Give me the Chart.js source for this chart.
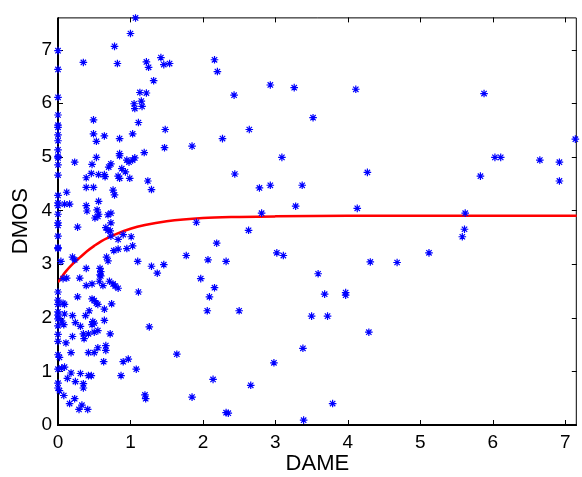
<!DOCTYPE html>
<html>
<head>
<meta charset="utf-8">
<script src="https://cdn.jsdelivr.net/npm/chart.js@4/dist/chart.umd.min.js"></script>
<style>
  html, body { margin: 0; padding: 0; background: #fff; }
</style>
</head>
<body>
<canvas id="mycanvas" width="582" height="477"></canvas>
<script>
// scatter data (DAME, DMOS)
var dame = [
  1.07,1.00,0.78,0,0.35,0.82,1.22,1.25,1.42,1.46,1.54,2.16,2.20,0,1.32,1.13,1.22,1.15,1.05,1.16,
  1.06,0,0,0,0,0.49,1.11,0.49,0.64,0.53,0.85,1.03,1.48,1.47,1.85,2.27,0,0,0,1.19,
  0.85,0,0,0,0,0.23,0.53,0.47,0.73,0.70,0.85,0.95,0.98,1.06,1.03,0.88,0.93,0.46,0.39,0.56,
  0.64,0.65,0.83,0.85,0.99,1.24,1.29,0.39,0.49,0.12,0.76,0.78,0,0,0,0,0.09,0.16,0.56,0.39,
  0.40,0.54,0.56,0.51,0.55,0.69,0.73,0.73,0,0,0.27,0.66,0.69,0.72,1.91,1.01,0.83,0.90,0.73,0,
  0,0,2.19,0.77,0.83,0.95,1.03,0.20,0.23,0.04,0.67,0.69,1.10,1.77,2.07,2.32,1.29,1.46,1.37,0.39,
  0.58,0.59,0.58,0.59,0.07,0.12,0.30,1.97,0.39,0.47,0.57,0.62,0.71,0.76,0.79,0.83,2.16,1.11,
  2.09,2.06,0,0,0,0,0,0,0,0,0,0.07,0.09,0.27,0.47,0.50,0.53,0.55,0.74,0.43,0.38,0.64,
  0.09,0.20,0.05,0.08,0.24,0.31,0.48,0.50,0.47,0.64,0.55,0.50,0.42,0.35,0.36,0.72,0.20,0.11,1.26,0.66,
  0.66,0.55,0.42,0.50,0.18,0,0.02,0.63,0.90,0.97,1.64,0,0.05,0.09,0.13,0.18,0.31,0.42,0.46,0.24,
  0.35,0.35,1.08,0.87,0,0,0.02,0.08,2.14,1.20,1.21,1.85,0.23,0.16,0.33,0.29,0.41,2.32,
  2.43,2.93,3.26,4.11,3.52,2.64,3.09,2.44,4.27,2.78,2.93,3.37,3.28,4.13,2.81,
  2.63,3.02,3.11,4.31,4.68,3.59,3.68,3.97,3.97,2.50,3.50,3.72,4.29,3.38,2.98,2.66,3.79,2.35,3.39,
  5.88,7.14,6.03,6.11,6.65,6.92,5.83,6.92,5.62,5.61,5.58,5.12
];
var dmos = [
  7.59,7.30,7.06,6.98,6.76,6.74,6.77,6.67,6.85,6.72,6.74,6.81,6.59,6.63,6.42,6.20,6.19,6.04,5.99,5.94,
  5.90,6.11,5.78,5.59,5.55,5.69,5.64,5.43,5.39,5.29,5.34,5.43,5.51,5.17,5.20,5.34,5.41,5.30,5.13,5.08,
  5.06,5.01,4.98,4.85,4.66,4.90,4.99,4.86,4.87,4.81,5.02,4.94,4.90,4.98,4.94,4.78,4.72,4.69,4.61,4.67,
  4.67,4.63,4.64,4.60,4.60,4.55,4.39,4.43,4.43,4.34,4.38,4.29,4.28,4.14,4.09,3.93,4.12,4.12,4.17,4.09,
  3.99,4.01,3.93,3.86,3.89,3.92,3.95,3.77,3.77,3.72,3.69,3.68,3.63,3.62,3.78,3.51,3.46,3.55,3.52,3.52,
  3.31,3.29,3.39,3.25,3.28,3.29,3.34,3.13,3.08,3.05,3.13,3.06,3.05,3.16,3.08,3.05,2.96,2.99,2.83,2.92,
  2.92,2.86,2.80,2.78,2.73,2.74,2.74,2.73,2.60,2.63,2.68,2.60,2.68,2.63,2.59,2.55,2.56,2.48,
  2.39,2.13,2.48,2.33,2.25,2.11,2.05,1.98,1.85,1.69,1.56,2.27,2.25,2.39,2.35,2.32,2.27,2.25,2.26,2.13,2.04,2.16,
  2.07,2.04,1.94,1.87,1.91,1.84,1.93,1.90,1.87,1.95,1.76,1.73,1.70,1.70,1.61,1.70,1.65,1.53,1.83,1.48,
  1.39,1.44,1.35,1.35,1.35,1.31,1.26,1.18,1.18,1.23,1.32,1.04,1.06,1.08,0.87,0.97,0.96,0.92,0.92,0.81,
  0.77,0.69,1.04,0.92,0.78,0.69,0.64,0.55,0.85,0.56,0.49,0.52,0.49,0.40,0.37,0.29,0.29,0.23,
  6.15,6.34,6.29,6.26,5.73,5.51,4.99,4.68,4.71,4.42,4.47,4.47,4.08,4.04,3.95,
  3.63,3.21,3.16,3.04,3.03,2.82,2.44,2.47,2.42,2.13,2.03,2.03,1.73,1.43,1.16,0.74,0.40,0.22,0.09,
  6.18,5.33,4.99,4.99,4.94,4.90,4.64,4.55,3.95,3.65,3.51,3.21
];

// fitted curve
var fitX = [0, 0.1, 0.2, 0.3, 0.4, 0.5, 0.6, 0.8, 1.0, 1.2, 1.5, 2.0, 2.5, 3.0, 4.0, 5.0, 6.0, 7.16];
var fitY = [2.66, 2.85, 3.00, 3.12, 3.24, 3.34, 3.43, 3.56, 3.66, 3.73, 3.80, 3.86, 3.88, 3.89, 3.90, 3.90, 3.90, 3.90];

var xTicks = [0, 1, 2, 3, 4, 5, 6, 7];
var yTicks = [0, 1, 2, 3, 4, 5, 6, 7];

var pts = [];
for (var i = 0; i < dame.length; i++) pts.push({x: dame[i], y: dmos[i]});
var fit = [];
for (var j = 0; j < fitX.length; j++) fit.push({x: fitX[j], y: fitY[j]});

// matlab style box with inward ticks
var boxPlugin = {
  id: 'box',
  beforeDatasetsDraw: function(chart) {
    var ctx = chart.ctx, a = chart.chartArea;
    var xs = chart.scales.x, ys = chart.scales.y;
    ctx.save();
    ctx.strokeStyle = '#000';
    ctx.lineWidth = 1;
    ctx.beginPath();
    ctx.moveTo(a.left, a.top + 0.5);
    ctx.lineTo(a.right - 0.5, a.top + 0.5);
    ctx.lineTo(a.right - 0.5, a.bottom);
    ctx.stroke();
    ctx.beginPath();
    xTicks.forEach(function(t) {
      var px = Math.round(xs.getPixelForValue(t)) + 0.5;
      ctx.moveTo(px, a.bottom); ctx.lineTo(px, a.bottom - 5);
      ctx.moveTo(px, a.top); ctx.lineTo(px, a.top + 5);
    });
    yTicks.forEach(function(t) {
      var py = Math.round(ys.getPixelForValue(t)) + 0.5;
      ctx.moveTo(a.left, py); ctx.lineTo(a.left + 5, py);
      ctx.moveTo(a.right, py); ctx.lineTo(a.right - 5, py);
    });
    ctx.stroke();
    ctx.lineWidth = 2;
    ctx.beginPath();
    ctx.moveTo(a.left, a.top);
    ctx.lineTo(a.left, a.bottom);
    ctx.lineTo(a.right, a.bottom);
    ctx.stroke();
    ctx.restore();
  }
};

var tickFont = {family: 'Liberation Sans, Arial, sans-serif', size: 19};
var titleFont = {family: 'Liberation Sans, Arial, sans-serif', size: 22};

var ctx = document.getElementById('mycanvas');
var chart = new Chart(ctx, {
  type: 'scatter',
  data: {
    datasets: [
      {
        label: 'data',
        data: pts,
        pointStyle: 'star',
        pointRadius: 3.8,
        borderColor: '#0000ff',
        backgroundColor: '#0000ff',
        borderWidth: 1.2,
        clip: false
      },
      {
        label: 'fit',
        data: fit,
        showLine: true,
        borderColor: '#ff0000',
        borderWidth: 2.5,
        pointRadius: 0,
        cubicInterpolationMode: 'monotone',
        fill: false
      }
    ]
  },
  options: {
    responsive: false,
    animation: false,
    devicePixelRatio: 1,
    layout: {padding: {top: 12, right: 1, left: 0, bottom: 0}},
    plugins: {legend: {display: false}, tooltip: {enabled: false}},
    scales: {
      x: {
        type: 'linear',
        min: 0,
        max: 7.16,
        grid: {display: false, drawTicks: false},
        border: {display: false},
        ticks: {stepSize: 1, includeBounds: false, color: '#000', font: tickFont, padding: 6, maxRotation: 0},
        title: {display: true, text: 'DAME', color: '#000', font: titleFont, padding: {top: 0, bottom: 0}},
        afterFit: function(s) { s.height = 52; }
      },
      y: {
        type: 'linear',
        min: 0,
        max: 7.6,
        grid: {display: false, drawTicks: false},
        border: {display: false},
        ticks: {stepSize: 1, includeBounds: false, color: '#000', font: tickFont, padding: 6},
        title: {display: true, text: 'DMOS', color: '#000', font: titleFont, padding: {top: 8, bottom: 0}},
        afterFit: function(s) { s.width = 58; }
      }
    }
  },
  plugins: [boxPlugin]
});
</script>
</body>
</html>
